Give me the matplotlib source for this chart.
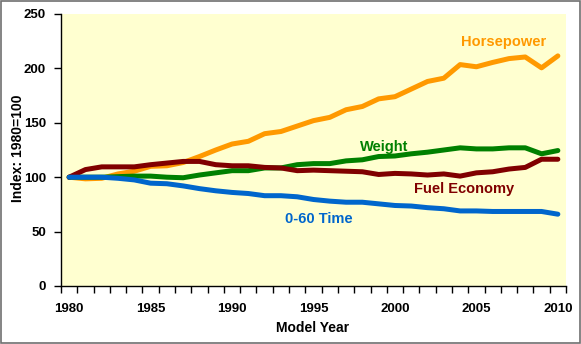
import matplotlib
matplotlib.use('Agg')
import matplotlib.pyplot as plt
from matplotlib.ticker import MultipleLocator, FixedLocator
from matplotlib.patches import Rectangle

plt.rcParams['font.family'] = ['Liberation Sans', 'DejaVu Sans']
plt.rcParams['font.weight'] = 'bold'

years = list(range(1980, 2011))

horsepower = [100, 98.5, 99, 103, 105.5, 110, 110.5, 113.5, 119, 125, 130.5, 133,
              140, 142, 147, 152, 155, 162, 165, 172, 174, 181, 188, 191, 203.5,
              201.5, 205.5, 209, 210.5, 200.5, 211.5]
weight = [100, 100, 100, 100.5, 101, 101, 100, 99.5, 102, 104, 106, 106, 108.5,
          108.5, 111.5, 112.5, 112.5, 115, 116, 119, 119.5, 121.5, 123, 125, 127,
          126, 126, 127, 127, 121.5, 124.5]
fuel_economy = [100, 107, 109.5, 109.5, 109.5, 111.5, 113, 114.5, 114.5, 111.5,
                110.5, 110.5, 109, 108.5, 106, 106.5, 106, 105.5, 105, 102.5, 103.5,
                103, 102, 103, 101, 104, 105, 107.5, 109, 116.5, 116.5]
zero_sixty = [100, 100, 100, 99, 97.5, 94.5, 94, 92, 89.5, 87.5, 86, 85, 83, 83, 82,
              79.5, 78, 77, 77, 75.5, 74, 73.5, 72, 71, 69, 69, 68.5, 68.5, 68.5,
              68.5, 66]

series = [
    ('Horsepower', horsepower, '#FF9900', (504, 42)),
    ('Weight', weight, '#008000', (384, 147)),
    ('Fuel Economy', fuel_economy, '#800000', (464, 189)),
    ('0-60 Time', zero_sixty, '#0066CC', (319, 219)),
]

W, H = 581, 344
fig = plt.figure(figsize=(W / 100, H / 100), dpi=100)
ax = fig.add_axes([61 / W, (H - 286) / H, 505 / W, 272 / H])
ax.set_facecolor('#FFFFD0')

for name, vals, color, (tx, ty) in series:
    ax.plot(years, vals, color=color, lw=3.6, solid_capstyle='round')
    fig.text(tx / W, 1 - ty / H, name, color=color, fontsize=10.5,
             fontweight='bold', ha='center', va='center')

ax.set_xlim(1979.5, 2010.5)
ax.set_ylim(0, 250)
ax.yaxis.set_major_locator(MultipleLocator(50))
ax.xaxis.set_major_locator(FixedLocator(list(range(1980, 2011, 5))))
ax.xaxis.set_minor_locator(FixedLocator([y - 0.5 for y in range(1980, 2012)]))
ax.tick_params(axis='x', which='major', length=0, pad=12, labelsize=9.5)
ax.tick_params(axis='x', which='minor', length=5, width=1, direction='out')
ax.tick_params(axis='y', length=5, width=1, direction='out', labelsize=9.5, pad=5.8)
for lab in ax.get_xticklabels() + ax.get_yticklabels():
    lab.set_fontweight('bold')

for s in ['top', 'right']:
    ax.spines[s].set_visible(False)
ax.spines['left'].set_linewidth(1)
ax.spines['bottom'].set_linewidth(1)

fig.text(313 / W, 1 - 328 / H, 'Model Year', fontsize=10, fontweight='bold',
         ha='center', va='center')
fig.text(18 / W, 1 - 148 / H, 'Index: 1980=100', fontsize=10, fontweight='bold',
         ha='center', va='center', rotation=90)

# outer chart frame
fig.patches.append(Rectangle((1 / W, 1.5 / H), 578.5 / W, 341.5 / H,
                             transform=fig.transFigure, fill=False,
                             edgecolor='#707070', lw=1.2))

fig.savefig('out.png', dpi=100)
